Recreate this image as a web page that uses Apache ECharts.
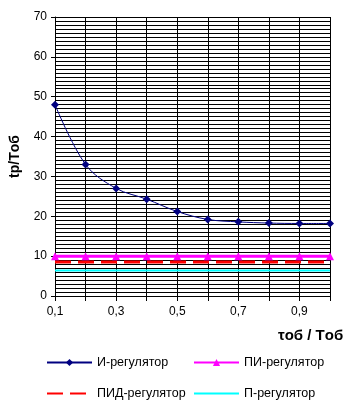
<!DOCTYPE html>
<html><head><meta charset="utf-8">
<script src="https://cdn.jsdelivr.net/npm/echarts@6/dist/echarts.min.js"></script>
<style>html,body{margin:0;padding:0;background:#fff}#c{width:348px;height:410px}</style>
</head><body><div id="c"></div>
<script>
const categories = ['0,1','0,2','0,3','0,4','0,5','0,6','0,7','0,8','0,9','1'];
const iReg = [48, 33, 27, 24.3, 21.2, 19.2, 18.6, 18.3, 18.2, 18.2];
const piReg = [10, 10, 10, 10, 10, 10, 10, 10, 10, 10];
const pidReg = [8.5, 8.5, 8.5, 8.5, 8.5, 8.5, 8.5, 8.5, 8.5, 8.5];
const pReg = [6.4, 6.4, 6.4, 6.4, 6.4, 6.4, 6.4, 6.4, 6.4, 6.4];
const names = ['И-регулятор','ПИ-регулятор','ПИД-регулятор','П-регулятор'];

const font = 'Liberation Sans, Arial, sans-serif';
const legText = {fontSize: 12.5, color: '#000', fontFamily: font};
function leg(item, left, top) {
  return {data: [item], left: left, top: top, padding: 0, itemWidth: 45, itemHeight: 9,
          textStyle: legText};
}
const chart = echarts.init(document.getElementById('c'));
chart.setOption({
  animation: false,
  backgroundColor: '#fff',
  textStyle: {fontFamily: font},
  grid: {left: 53, right: 18, top: 17, bottom: 114, containLabel: false},
  legend: [
    leg(names[0], 46, 356),
    leg(names[1], 193, 356),
    leg({name: names[2], itemStyle: {opacity: 0}}, 46, 387),
    leg({name: names[3], itemStyle: {opacity: 0}}, 193, 387)
  ],
  xAxis: {
    type: 'category', data: categories, boundaryGap: false,
    name: 'τоб / Tоб', nameLocation: 'end', nameGap: -52,
    nameTextStyle: {fontSize: 15, fontWeight: 'bold', color: '#000', align: 'left', verticalAlign: 'top', padding: [32,0,0,0], fontFamily: font},
    axisLine: {lineStyle: {color: '#000', width: 1}},
    axisTick: {show: true, alignWithLabel: true, interval: 0, lineStyle: {color: '#000'}, length: 5},
    axisLabel: {interval: 1, color: '#000', fontSize: 12, margin: 10},
    splitLine: {show: true, interval: 0, lineStyle: {color: '#000', width: 1}}
  },
  yAxis: {
    type: 'value', min: 0, max: 70, interval: 10,
    name: 'tр/Tоб', nameLocation: 'middle', nameRotate: 90, nameGap: 33,
    nameTextStyle: {fontSize: 14, fontWeight: 'bold', color: '#000', fontFamily: font},
    axisLine: {show: true, lineStyle: {color: '#000', width: 1}},
    axisTick: {show: true, lineStyle: {color: '#000'}, length: 4},
    axisLabel: {color: '#000', fontSize: 12, margin: 8},
    splitLine: {show: true, lineStyle: {color: '#000', width: 1}},
    minorTick: {show: false, splitNumber: 10},
    minorSplitLine: {show: true, lineStyle: {color: '#000', width: 1}}
  },
  series: [
    {name: names[0], type: 'line', data: iReg, smooth: 0.35, symbol: 'diamond', symbolSize: 8,
     itemStyle: {color: '#000080'}, lineStyle: {color: '#000080', width: 1}, z: 5},
    {name: names[1], type: 'line', data: piReg, symbol: 'triangle', symbolSize: 8,
     itemStyle: {color: '#FF00FF'}, lineStyle: {color: '#FF00FF', width: 3}, z: 4},
    {name: names[2], type: 'line', data: pidReg, symbol: 'none',
     itemStyle: {color: '#FF0000'}, lineStyle: {color: '#FF0000', width: 3, type: [16, 7]}, z: 3},
    {name: names[3], type: 'line', data: pReg, symbol: 'none',
     itemStyle: {color: '#00FFFF'}, lineStyle: {color: '#00FFFF', width: 2}, z: 2}
  ]
});
</script></body></html>
